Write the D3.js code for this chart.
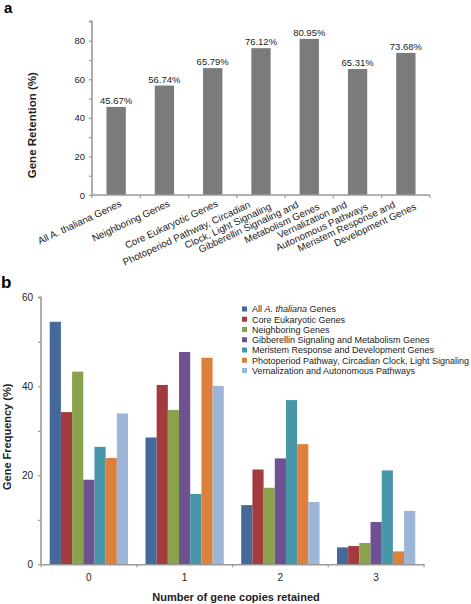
<!DOCTYPE html>
<html><head><meta charset="utf-8">
<script src="https://cdn.jsdelivr.net/npm/d3@7"></script>
<style>
body{margin:0;background:#fff;}
svg{display:block;font-family:"Liberation Sans",Arial,sans-serif;}
</style></head>
<body>
<svg id="c" width="471" height="604"></svg>
<script>
// ---- Panel a data ----
const retentionCategories = [
  ["All A. thaliana Genes"],
  ["Neighboring Genes"],
  ["Core Eukaryotic Genes"],
  ["Photoperiod Pathway, Circadian", "Clock, Light Signaling"],
  ["Gibberellin Signaling and", "Metabolism Genes"],
  ["Vernalization and", "Autonomous Pathways"],
  ["Meristem Response and", "Development Genes"]
];
const retentionValues = [45.67, 56.74, 65.79, 76.12, 80.95, 65.31, 73.68];
const retentionLabels = ["45.67%", "56.74%", "65.79%", "76.12%", "80.95%", "65.31%", "73.68%"];
const retentionTicks = [0, 20, 40, 60, 80];

// ---- Panel b data ----
const copyGroups = ["0", "1", "2", "3"];
const seriesNames = [
  "All A. thaliana Genes",
  "Core Eukaryotic Genes",
  "Neighboring Genes",
  "Gibberellin Signaling and Metabolism Genes",
  "Meristem Response and Development Genes",
  "Photoperiod Pathway, Circadian Clock, Light Signaling",
  "Vernalization and Autonomous Pathways"
];
const allThaliana   = [54.5, 28.5, 13.3, 3.8];
const coreEuk       = [34.2, 40.3, 21.3, 4.1];
const neighboring   = [43.3, 34.7, 17.2, 4.8];
const gibberellin   = [19.0, 47.7, 23.8, 9.5];
const meristem      = [26.4, 15.8, 36.9, 21.1];
const photoperiod   = [23.9, 46.4, 27.0, 2.9];
const vernalization = [33.9, 40.1, 14.0, 12.0];
const freqTicks = [0, 20, 40, 60];

const seriesValues = [allThaliana, coreEuk, neighboring, gibberellin, meristem, photoperiod, vernalization];
const colors = ["#45699b", "#a33b3e", "#88a34b", "#6d5191", "#4897a8", "#dd803c", "#9db5d7"];

const svg = d3.select("#c");
const axisColor = "#9a9a9a";
const textColor = "#222";

// ================= Panel a =================
svg.append("text").attr("x", 4).attr("y", 13).attr("font-size", 15).attr("font-weight", "bold").text("a");

const xa = d3.scaleBand().domain(d3.range(retentionValues.length)).range([92, 430]).paddingInner(0.6).paddingOuter(0.3);
const ya = d3.scaleLinear().domain([0, 90]).range([195, 21.4]);

const ga = svg.append("g");
ga.selectAll("rect").data(retentionValues).join("rect")
  .attr("x", (d, i) => xa(i)).attr("width", xa.bandwidth())
  .attr("y", d => ya(d)).attr("height", d => ya(0) - ya(d))
  .attr("fill", "#7b7b7b");

ga.selectAll("text.val").data(retentionValues).join("text").attr("class", "val")
  .attr("x", (d, i) => xa(i) + xa.bandwidth() / 2).attr("y", d => ya(d) - 3)
  .attr("text-anchor", "middle").attr("font-size", 9.5).attr("fill", textColor)
  .text((d, i) => retentionLabels[i]);

// y axis a
const yAxisA = svg.append("g").attr("transform", "translate(92,0)")
  .call(d3.axisLeft(ya).tickValues(d3.range(0, 91, 10)).tickSize(3).tickFormat(d => retentionTicks.includes(d) ? d : ""));
yAxisA.select(".domain").attr("stroke", axisColor).attr("stroke-width", 1.6).attr("d", "M-3," + ya(90) + "H0V" + ya(0));
yAxisA.selectAll(".tick line").attr("stroke", axisColor).attr("stroke-width", 1.2);
yAxisA.selectAll(".tick text").attr("font-size", 9.5).attr("fill", textColor).attr("font-family", "Liberation Sans, Arial, sans-serif").attr("dx", -1);

// x axis a
const stepA = xa.step();
const boundsA = d3.range(retentionValues.length + 1).map(i => 92 + i * stepA);
const xAxisA = svg.append("g");
xAxisA.append("line").attr("x1", 92).attr("x2", 430).attr("y1", ya(0)).attr("y2", ya(0)).attr("stroke", axisColor).attr("stroke-width", 1.6);
xAxisA.selectAll("line.t").data(boundsA).join("line").attr("class", "t")
  .attr("x1", d => d).attr("x2", d => d).attr("y1", ya(0)).attr("y2", ya(0) + 3).attr("stroke", axisColor).attr("stroke-width", 1.2);

// rotated category labels
const angle = -25;
const catFont = 9.8;
retentionCategories.forEach((lines, i) => {
  const c = xa(i) + xa.bandwidth() / 2;
  if (lines.length === 1) {
    svg.append("text").attr("transform", `translate(${c + 6},${ya(0) + 11}) rotate(${angle})`)
      .attr("text-anchor", "end").attr("font-size", catFont).attr("fill", textColor).text(lines[0]);
  } else {
    svg.append("text").attr("transform", `translate(${c - 10},${ya(0) + 12}) rotate(${angle})`)
      .attr("text-anchor", "end").attr("font-size", catFont).attr("fill", textColor).text(lines[0]);
    svg.append("text").attr("transform", `translate(${c + 11},${ya(0) + 14}) rotate(${angle})`)
      .attr("text-anchor", "end").attr("font-size", catFont).attr("fill", textColor).text(lines[1]);
  }
});

svg.append("text").attr("transform", `translate(36,${(ya(0) + ya(90)) / 2 + 17}) rotate(-90)`)
  .attr("text-anchor", "middle").attr("font-size", 11.5).attr("font-weight", "bold").attr("fill", textColor)
  .text("Gene Retention (%)");

// ================= Panel b =================
svg.append("text").attr("x", 1).attr("y", 288).attr("font-size", 17).attr("font-weight", "bold").text("b");

const x0 = d3.scaleBand().domain(copyGroups).range([41, 424]);
const x1 = d3.scaleBand().domain(d3.range(seriesNames.length)).range([0, x0.bandwidth()]).paddingOuter(0.78);
const yb = d3.scaleLinear().domain([0, 60]).range([564.3, 297.3]);

const gb = svg.append("g");
seriesValues.forEach((vals, s) => {
  gb.append("g").selectAll("rect").data(vals).join("rect")
    .attr("x", (d, i) => x0(copyGroups[i]) + x1(s)).attr("width", x1.bandwidth())
    .attr("y", d => yb(d)).attr("height", d => yb(0) - yb(d))
    .attr("fill", colors[s]);
});

const yAxisB = svg.append("g").attr("transform", "translate(41,0)")
  .call(d3.axisLeft(yb).tickValues(d3.range(0, 61, 10)).tickSize(3).tickFormat(d => freqTicks.includes(d) ? d : ""));
yAxisB.select(".domain").attr("stroke", axisColor).attr("stroke-width", 1.6).attr("d", "M-3," + yb(60) + "H0V" + yb(0));
yAxisB.selectAll(".tick line").attr("stroke", axisColor).attr("stroke-width", 1.2);
yAxisB.selectAll(".tick text").attr("font-size", 10).attr("fill", textColor).attr("font-family", "Liberation Sans, Arial, sans-serif").attr("dx", -2);

const xAxisB = svg.append("g").attr("transform", `translate(0,${yb(0)})`)
  .call(d3.axisBottom(x0).tickSize(0).tickPadding(10));
xAxisB.select(".domain").attr("stroke", axisColor).attr("stroke-width", 1.6);
xAxisB.selectAll(".tick text").attr("font-size", 10).attr("fill", textColor).attr("font-family", "Liberation Sans, Arial, sans-serif");
const boundsB = d3.range(copyGroups.length + 1).map(i => 41 + i * x0.step());
xAxisB.selectAll("line.t").data(boundsB).join("line").attr("class", "t")
  .attr("x1", d => d).attr("x2", d => d).attr("y1", 0).attr("y2", 3).attr("stroke", axisColor).attr("stroke-width", 1.2);

svg.append("text").attr("x", 236).attr("y", 601).attr("text-anchor", "middle")
  .attr("font-size", 11).attr("font-weight", "bold").attr("fill", textColor).text("Number of gene copies retained");
svg.append("text").attr("transform", `translate(11,${(yb(0) + yb(60)) / 2 + 6}) rotate(-90)`)
  .attr("text-anchor", "middle").attr("font-size", 11).attr("font-weight", "bold").attr("fill", textColor)
  .text("Gene Frequency (%)");

// legend
const lg = svg.append("g").attr("transform", "translate(242,309)");
seriesNames.forEach((name, i) => {
  const row = lg.append("g").attr("transform", `translate(0,${i * 10.25})`);
  row.append("rect").attr("x", 0).attr("y", -2.5).attr("width", 5).attr("height", 5).attr("fill", colors[i]);
  const t = row.append("text").attr("x", 10).attr("y", 3.3).attr("font-size", 9).attr("fill", textColor);
  if (i === 0) {
    t.append("tspan").text("All ");
    t.append("tspan").attr("font-style", "italic").text("A. thaliana");
    t.append("tspan").text(" Genes");
  } else {
    t.text(name);
  }
});
</script>
</body></html>
